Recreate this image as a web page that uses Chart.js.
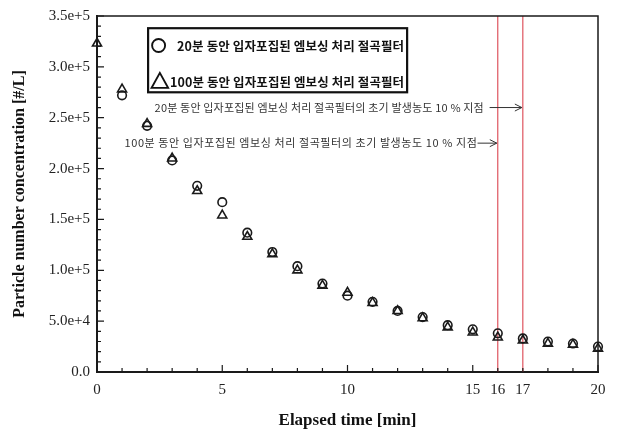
<!DOCTYPE html>
<html>
<head>
<meta charset="utf-8">
<script src="https://cdn.jsdelivr.net/npm/chart.js@4/dist/chart.umd.min.js"></script>
<style>
html,body{margin:0;padding:0;background:#fff;}
#wrap{width:621px;height:439px;position:relative;}
</style>
</head>
<body>
<div id="wrap"><canvas id="c" width="621" height="439"></canvas></div>
<script>
// ---- data ----
const times = [0,1,2,3,4,5,6,7,8,9,10,11,12,13,14,15,16,17,18,19,20];
const series20 = [null,272000,242000,208000,183000,167000,137000,118000,104000,87000,75000,69000,60000,54000,46000,42000,38000,33000,30000,28000,25000];
const series100 = [323000,278000,244000,210000,178000,154000,133000,116000,100000,85000,78000,68000,60000,53000,44000,39000,34000,31000,28000,27000,23000];
const seriesNames = ['20분 동안 입자포집된 엠보싱 처리 절곡필터','100분 동안 입자포집된 엠보싱 처리 절곡필터'];
const markerTimes = [16,17];
const annotationTexts = ['20분 동안 입자포집된 엠보싱 처리 절곡필터의 초기 발생농도 10 % 지점','100분 동안 입자포집된 엠보싱 처리 절곡필터의 초기 발생농도 10 % 지점'];
const annotationTargets = [17,16];
const xTickValues = [0,5,10,15,16,17,20];
const xTickLabels = ['0','5','10','15','16','17','20'];
const yTickValues = [0,50000,100000,150000,200000,250000,300000,350000];
const yTickLabels = ['0.0','5.0e+4','1.0e+5','1.5e+5','2.0e+5','2.5e+5','3.0e+5','3.5e+5'];
const xTitle = 'Elapsed time [min]';
const yTitle = 'Particle number concentration [#/L]';

const KFONT = '"Noto Sans CJK KR","Noto Sans",sans-serif';
const SERIF = '"Liberation Serif","DejaVu Serif",serif';
const INK = '#1a1a1a';

const pts = (ys) => times.map((t,i)=>({x:t,y:ys[i]})).filter(p=>p.y!==null);

const lineSets = markerTimes.map(t => ({
  type:'line',
  data:[{x:t,y:0},{x:t,y:350000}],
  borderColor:'#d8323f',
  borderWidth:1,
  pointRadius:0,
  fill:false,
  order:5
}));

function fitText(ctx, txt, x, y, target){
  ctx.letterSpacing = '0px';
  const w = ctx.measureText(txt).width;
  const n = Array.from(txt).length;
  const ls = (target - w) / Math.max(1, n - 1);
  ctx.letterSpacing = ls.toFixed(2) + 'px';
  ctx.fillText(txt, x, y);
  ctx.letterSpacing = '0px';
  return target;
}

const decor = {
  id:'decor',
  afterDraw(chart){
    const ctx = chart.ctx;
    const a = chart.chartArea;
    const xs = chart.scales.x, ys = chart.scales.y;
    ctx.save();
    // frame top/right
    ctx.strokeStyle = INK;
    ctx.lineWidth = 1.5;
    ctx.beginPath();
    ctx.moveTo(a.left, a.top); ctx.lineTo(a.right, a.top); ctx.lineTo(a.right, a.bottom);
    ctx.stroke();
    // inward ticks
    ctx.lineWidth = 1.2;
    ctx.beginPath();
    for (let v = 0; v <= 20; v++) {
      const px = xs.getPixelForValue(v);
      const len = (v % 5 === 0) ? 7 : 4;
      ctx.moveTo(px, a.bottom); ctx.lineTo(px, a.bottom - len);
    }
    for (let v = 0; v <= 350000; v += 10000) {
      const py = ys.getPixelForValue(v);
      const len = (v % 50000 === 0) ? 7 : 4;
      ctx.moveTo(a.left, py); ctx.lineTo(a.left + len, py);
    }
    ctx.stroke();

    // legend box
    const lx = xs.getPixelForValue(2.04), rx = xs.getPixelForValue(12.38);
    const ty = ys.getPixelForValue(338000), by = ys.getPixelForValue(275000);
    ctx.lineWidth = 2.2;
    ctx.strokeStyle = '#111';
    ctx.strokeRect(lx, ty, rx-lx, by-ty);
    const rowY = [ty + (by-ty)*0.27, ty + (by-ty)*0.83];
    ctx.lineWidth = 1.9;
    ctx.beginPath(); ctx.arc(lx+10.5, rowY[0], 6.5, 0, Math.PI*2); ctx.stroke();
    ctx.beginPath();
    ctx.moveTo(lx+3.5, rowY[1]+6.5); ctx.lineTo(lx+20, rowY[1]+6.5); ctx.lineTo(lx+11.75, rowY[1]-8.5); ctx.closePath(); ctx.stroke();
    ctx.fillStyle = '#111';
    ctx.font = 'bold 12.5px ' + KFONT;
    ctx.textBaseline = 'middle';
    ctx.textAlign = 'left';
    fitText(ctx, seriesNames[0], lx+29, rowY[0]+1, rx - 3 - (lx+29));
    fitText(ctx, seriesNames[1], lx+22, rowY[1]+1, rx - 3 - (lx+22));

    // annotations
    ctx.font = '11px ' + KFONT;
    ctx.fillStyle = '#333';
    ctx.strokeStyle = '#333';
    ctx.lineWidth = 1;
    const annY = [ys.getPixelForValue(260000), ys.getPixelForValue(225000)];
    const annX = [xs.getPixelForValue(2.3), xs.getPixelForValue(1.1)];
    const annW = [329, 352];
    const gap = [6, 1];
    annotationTexts.forEach((txt,i)=>{
      const w = fitText(ctx, txt, annX[i], annY[i], annW[i]);
      const x0 = annX[i] + w + gap[i];
      const x1 = xs.getPixelForValue(annotationTargets[i]) - 1;
      ctx.beginPath();
      ctx.moveTo(x0, annY[i]); ctx.lineTo(x1, annY[i]);
      ctx.moveTo(x1-7, annY[i]-3.5); ctx.lineTo(x1, annY[i]); ctx.lineTo(x1-7, annY[i]+3.5);
      ctx.stroke();
    });
    ctx.restore();
  }
};

new Chart(document.getElementById('c'), {
  type:'scatter',
  data:{
    datasets:[
      {label:seriesNames[0], data:pts(series20), pointStyle:'circle', pointRadius:4.3, pointBorderWidth:1.6, pointBorderColor:INK, pointBackgroundColor:'rgba(0,0,0,0)', showLine:false, order:1, clip:false},
      {label:seriesNames[1], data:pts(series100), pointStyle:'triangle', pointRadius:5.2, pointBorderWidth:1.6, pointBorderColor:INK, pointBackgroundColor:'rgba(0,0,0,0)', showLine:false, order:2, clip:false},
      ...lineSets
    ]
  },
  options:{
    responsive:false,
    animation:false,
    devicePixelRatio:1,
    layout:{padding:{left:4,right:23,top:15,bottom:3}},
    plugins:{legend:{display:false}, tooltip:{enabled:false}},
    scales:{
      x:{
        type:'linear', min:0, max:20,
        afterBuildTicks(s){ s.ticks = xTickValues.map(v=>({value:v})); },
        afterFit(s){ s.height = 439 - 3 - 372; },
        ticks:{autoSkip:false, maxRotation:0, padding:9, color:'#222', font:{family:SERIF, size:15},
          callback(v){ const i = xTickValues.indexOf(v); return i>=0 ? xTickLabels[i] : ''; }},
        grid:{display:false, drawTicks:false},
        border:{display:true, color:INK, width:2},
        title:{display:true, text:xTitle, color:'#111', font:{family:SERIF, size:17, weight:'bold'}, padding:{top:0,bottom:5}}
      },
      y:{
        type:'linear', min:0, max:350000,
        afterBuildTicks(s){ s.ticks = yTickValues.map(v=>({value:v})); },
        afterFit(s){ s.width = 97 - 4; },
        ticks:{autoSkip:false, padding:7, color:'#222', font:{family:SERIF, size:15},
          callback(v){ const i = yTickValues.indexOf(v); return i>=0 ? yTickLabels[i] : ''; }},
        grid:{display:false, drawTicks:false},
        border:{display:true, color:INK, width:2},
        title:{display:true, text:yTitle, color:'#111', font:{family:SERIF, size:16, weight:'bold'}, padding:{top:6,bottom:0}}
      }
    }
  },
  plugins:[decor]
});
</script>
</body>
</html>
